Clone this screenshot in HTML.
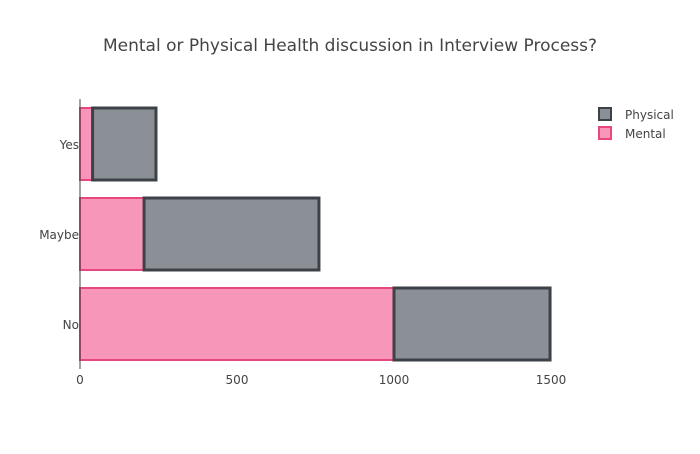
<!DOCTYPE html>
<html><head><meta charset="utf-8"><style>
body{margin:0;background:#fff;font-family:"DejaVu Sans",sans-serif;}
svg text{font-family:"DejaVu Sans",sans-serif;fill:#444;}
</style></head><body>
<svg id="chart" width="700" height="450" xmlns="http://www.w3.org/2000/svg">
<text x="350" y="51" text-anchor="middle" font-size="17">Mental or Physical Health discussion in Interview Process?</text>
<g id="grid"></g><g id="bars"></g><g id="axes"></g>
<g>
<g><rect x="599" y="108" width="12" height="12" fill="#8a9096" stroke="#3d4249" stroke-width="2"/><text x="625" y="119" font-size="12">Physical</text></g>
<g><rect x="599" y="127" width="12" height="12" fill="#f896b9" stroke="#e8467f" stroke-width="2"/><text x="625" y="138" font-size="12">Mental</text></g>
</g>
</svg>
<script>
const categories=["Yes","Maybe","No"];
const mental=[40,204,1000];
const physical=[202,557,497];
const xTicks=[0,500,1000,1500];
const X0=80,X1=551,XMAX=1500,YT=99,BAND=90;
const x=v=>X0+(X1-X0)*v/XMAX;
const yc=i=>YT+BAND*i+BAND/2;
const ns="http://www.w3.org/2000/svg";
function mk(t,a,p){const e=document.createElementNS(ns,t);for(const k in a)e.setAttribute(k,a[k]);p.appendChild(e);return e;}
const bars=document.getElementById('bars'),axes=document.getElementById('axes');
categories.forEach((c,i)=>{
 const h=72,y=yc(i)-h/2;
 const m=mk('rect',{x:x(0),y:y,width:x(mental[i])-x(0),height:h,fill:'#f896b9',stroke:'#e8467f','stroke-width':2},bars);
 
 
 const p=mk('rect',{x:x(mental[i]),y:y,width:x(mental[i]+physical[i])-x(mental[i]),height:h,fill:'#8a9096',stroke:'#3d4249','stroke-width':3},bars);
 
 
 const t=mk('text',{x:X0-1,y:yc(i)+5,'text-anchor':'end','font-size':12},axes);t.textContent=c;
 
 
});
const ax=mk('line',{x1:X0,x2:X0,y1:YT,y2:YT+BAND*3,stroke:'#444','stroke-width':1},axes);


xTicks.forEach(v=>{
 const t=mk('text',{x:x(v),y:384,'text-anchor':'middle','font-size':12},axes);t.textContent=v;
 
 
});
</script>
</body></html>
